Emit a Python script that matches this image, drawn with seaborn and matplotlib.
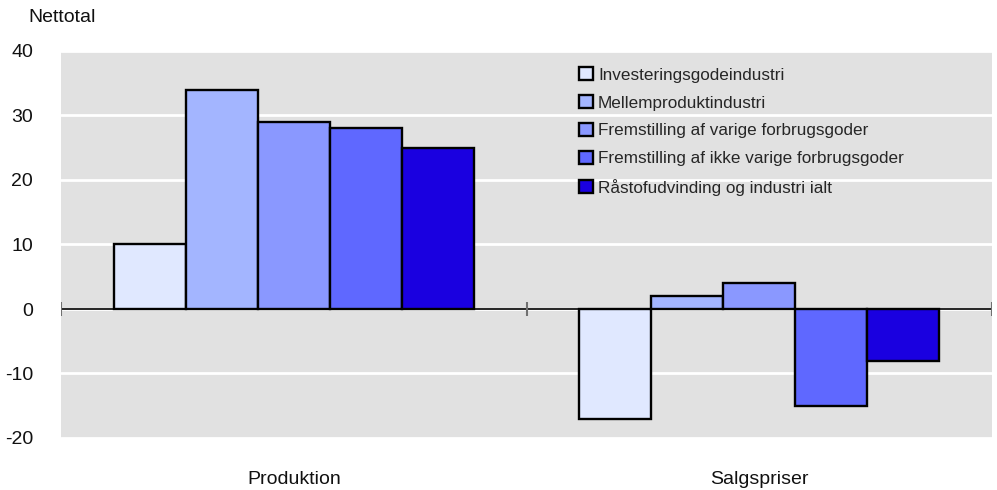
import pandas as pd
import matplotlib.pyplot as plt
import seaborn as sns
from matplotlib.patches import Patch

# Data
kategorier = ['Produktion', 'Salgspriser']
serier = ['Investeringsgodeindustri',
          'Mellemproduktindustri',
          'Fremstilling af varige forbrugsgoder',
          'Fremstilling af ikke varige forbrugsgoder',
          'Råstofudvinding og industri ialt']
produktion = [10, 34, 29, 28, 25]
salgspriser = [-17, 2, 4, -15, -8]
farver = ['#E0E8FF', '#A3B5FF', '#8A98FF', '#5F68FF', '#1A00E0']
y_ticks = [-20, -10, 0, 10, 20, 30, 40]

sns.set_theme(style="darkgrid")
plt.rcParams['font.family'] = ['Liberation Sans', 'DejaVu Sans']

df = pd.DataFrame({
    'Kategori': [kategorier[0]] * len(serier) + [kategorier[1]] * len(serier),
    'Serie': serier * 2,
    'Nettotal': produktion + salgspriser,
})

fig = plt.figure(figsize=(9.97, 4.9), dpi=100)
ax = fig.add_axes([61 / 997, 1 - 438 / 490, 931 / 997, 387 / 490])
ax.set_facecolor('#E1E1E1')

sns.barplot(data=df, x='Kategori', y='Nettotal', hue='Serie', hue_order=serier,
            palette=farver, saturation=1, width=0.773, gap=0,
            edgecolor='black', linewidth=1.7, legend=False, ax=ax, zorder=3)

ax.set_ylim(-20, 40)
ax.set_xlim(-0.5, 1.5)
ax.set_yticks(y_ticks)
ax.set_yticklabels([str(v) for v in y_ticks])
ax.grid(axis='y', color='white', linewidth=2)
ax.grid(axis='x', visible=False)
ax.set_axisbelow(True)
for s in ax.spines.values():
    s.set_visible(False)

# nul-linje med tick-markeringer mellem kategorierne
ax.axhline(0, color='black', linewidth=1.2, zorder=4)
ax.vlines([-0.5, 0.5, 1.5], -1.15, 1.15, color='#707070', linewidth=1.5, zorder=4)

ax.tick_params(axis='y', length=0, pad=20, labelsize=14, labelcolor='#111111')
ax.tick_params(axis='x', length=0, pad=24, labelsize=14, labelcolor='#111111')
ax.set_xlabel('')
ax.set_ylabel('')

handles = [Patch(facecolor=c, edgecolor='black', linewidth=1.7) for c in farver]
ax.legend(handles, serier, loc='upper left', bbox_to_anchor=(0.549, 0.976),
          frameon=False, fontsize=12.3, handlelength=0.82, handleheight=0.82,
          handletextpad=0.3, labelspacing=0.72, borderaxespad=0)

fig.text(28 / 997, 1 - 18 / 490, 'Nettotal', fontsize=14, va='center', ha='left',
         color='#111111')

fig.savefig('out.png', dpi=100, facecolor='white')
